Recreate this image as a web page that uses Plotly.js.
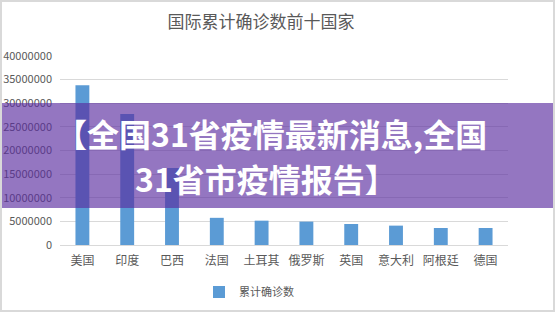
<!DOCTYPE html>
<html>
<head>
<meta charset="utf-8">
<script src="https://cdn.plot.ly/plotly-3.0.1.min.js"></script>
<style>
  html, body { margin: 0; padding: 0; background: #ffffff; }
  #chart { width: 555px; height: 312px; box-sizing: border-box; border: 2px solid #d9d9d9; }
</style>
</head>
<body>
<div id="chart"></div>
<script>
const countries = ["美国", "印度", "巴西", "法国", "土耳其", "俄罗斯", "英国", "意大利", "阿根廷", "德国"];
const confirmed = [33800000, 27700000, 16300000, 5750000, 5150000, 4950000, 4450000, 4100000, 3600000, 3600000];
const seriesName = "累计确诊数";
const chartTitle = "国际累计确诊数前十国家";
const yTicks = [0, 5000000, 10000000, 15000000, 20000000, 25000000, 30000000, 35000000, 40000000];
const bannerLine1 = "【全国31省疫情最新消息,全国";
const bannerLine2 = "31省市疫情报告】";

const W = 551, H = 308; // inner size (border 2px)
const mL = 58, mR = 45, mT = 54, mB = 65;
const pw = W - mL - mR, ph = H - mT - mB;
const px = v => (v - mL) / pw;          // pixel x (inner) -> paper
const py = v => (H - mB - v) / ph;      // pixel y (inner) -> paper

const font = "'Noto Sans CJK SC', 'Noto Sans', sans-serif";

const trace = {
  type: "bar",
  x: countries,
  y: confirmed,
  name: seriesName,
  marker: { color: "#5B9BD5" },
  showlegend: true,
  hoverinfo: "x+y"
};

const layout = {
  width: W, height: H,
  margin: { l: mL, r: mR, t: mT, b: mB, pad: 0, autoexpand: false },
  paper_bgcolor: "#ffffff",
  plot_bgcolor: "#ffffff",
  font: { family: font, color: "#595959", size: 11 },
  title: {
    text: chartTitle,
    font: { family: font, size: 17, color: "#595959" },
    x: 259 / W, xanchor: "center",
    y: 1 - 20 / H, yanchor: "middle",
    automargin: false
  },
  bargap: 0.69,
  xaxis: {
    type: "category",
    showgrid: false,
    showline: true, linecolor: "#d9d9d9", linewidth: 1,
    ticks: "",
    ticklabelstandoff: 5,
    tickfont: { family: font, size: 12, color: "#595959" },
    automargin: false,
    fixedrange: true
  },
  yaxis: {
    range: [0, 40000000],
    tickvals: yTicks,
    ticktext: yTicks.map(v => String(v)),
    showgrid: true, gridcolor: "#d9d9d9", gridwidth: 1,
    zeroline: false,
    showline: false,
    ticks: "",
    ticklabelstandoff: 7,
    tickfont: { family: font, size: 11, color: "#595959" },
    automargin: false,
    fixedrange: true
  },
  showlegend: true,
  legend: {
    orientation: "h",
    x: px(197), xanchor: "left",
    y: py(290), yanchor: "middle",
    font: { family: font, size: 11, color: "#595959" },
    bgcolor: "rgba(0,0,0,0)"
  },
  shapes: [{
    type: "rect", xref: "paper", yref: "paper",
    x0: px(-5), x1: px(W + 5), y0: py(101), y1: py(206),
    fillcolor: "rgba(90,45,160,0.65)", line: { width: 0 }, layer: "above"
  }],
  annotations: [
    {
      xref: "paper", yref: "paper", x: px(269), y: py(131),
      xanchor: "center", yanchor: "middle", showarrow: false,
      text: "<b>" + bannerLine1 + "</b>",
      font: { family: font, size: 32, color: "#ffffff" }
    },
    {
      xref: "paper", yref: "paper", x: px(264), y: py(176),
      xanchor: "center", yanchor: "middle", showarrow: false,
      text: "<b>" + bannerLine2 + "</b>",
      font: { family: font, size: 32, color: "#ffffff" }
    }
  ]
};

Plotly.newPlot("chart", [trace], layout, { displayModeBar: false, staticPlot: true });
</script>
</body>
</html>
